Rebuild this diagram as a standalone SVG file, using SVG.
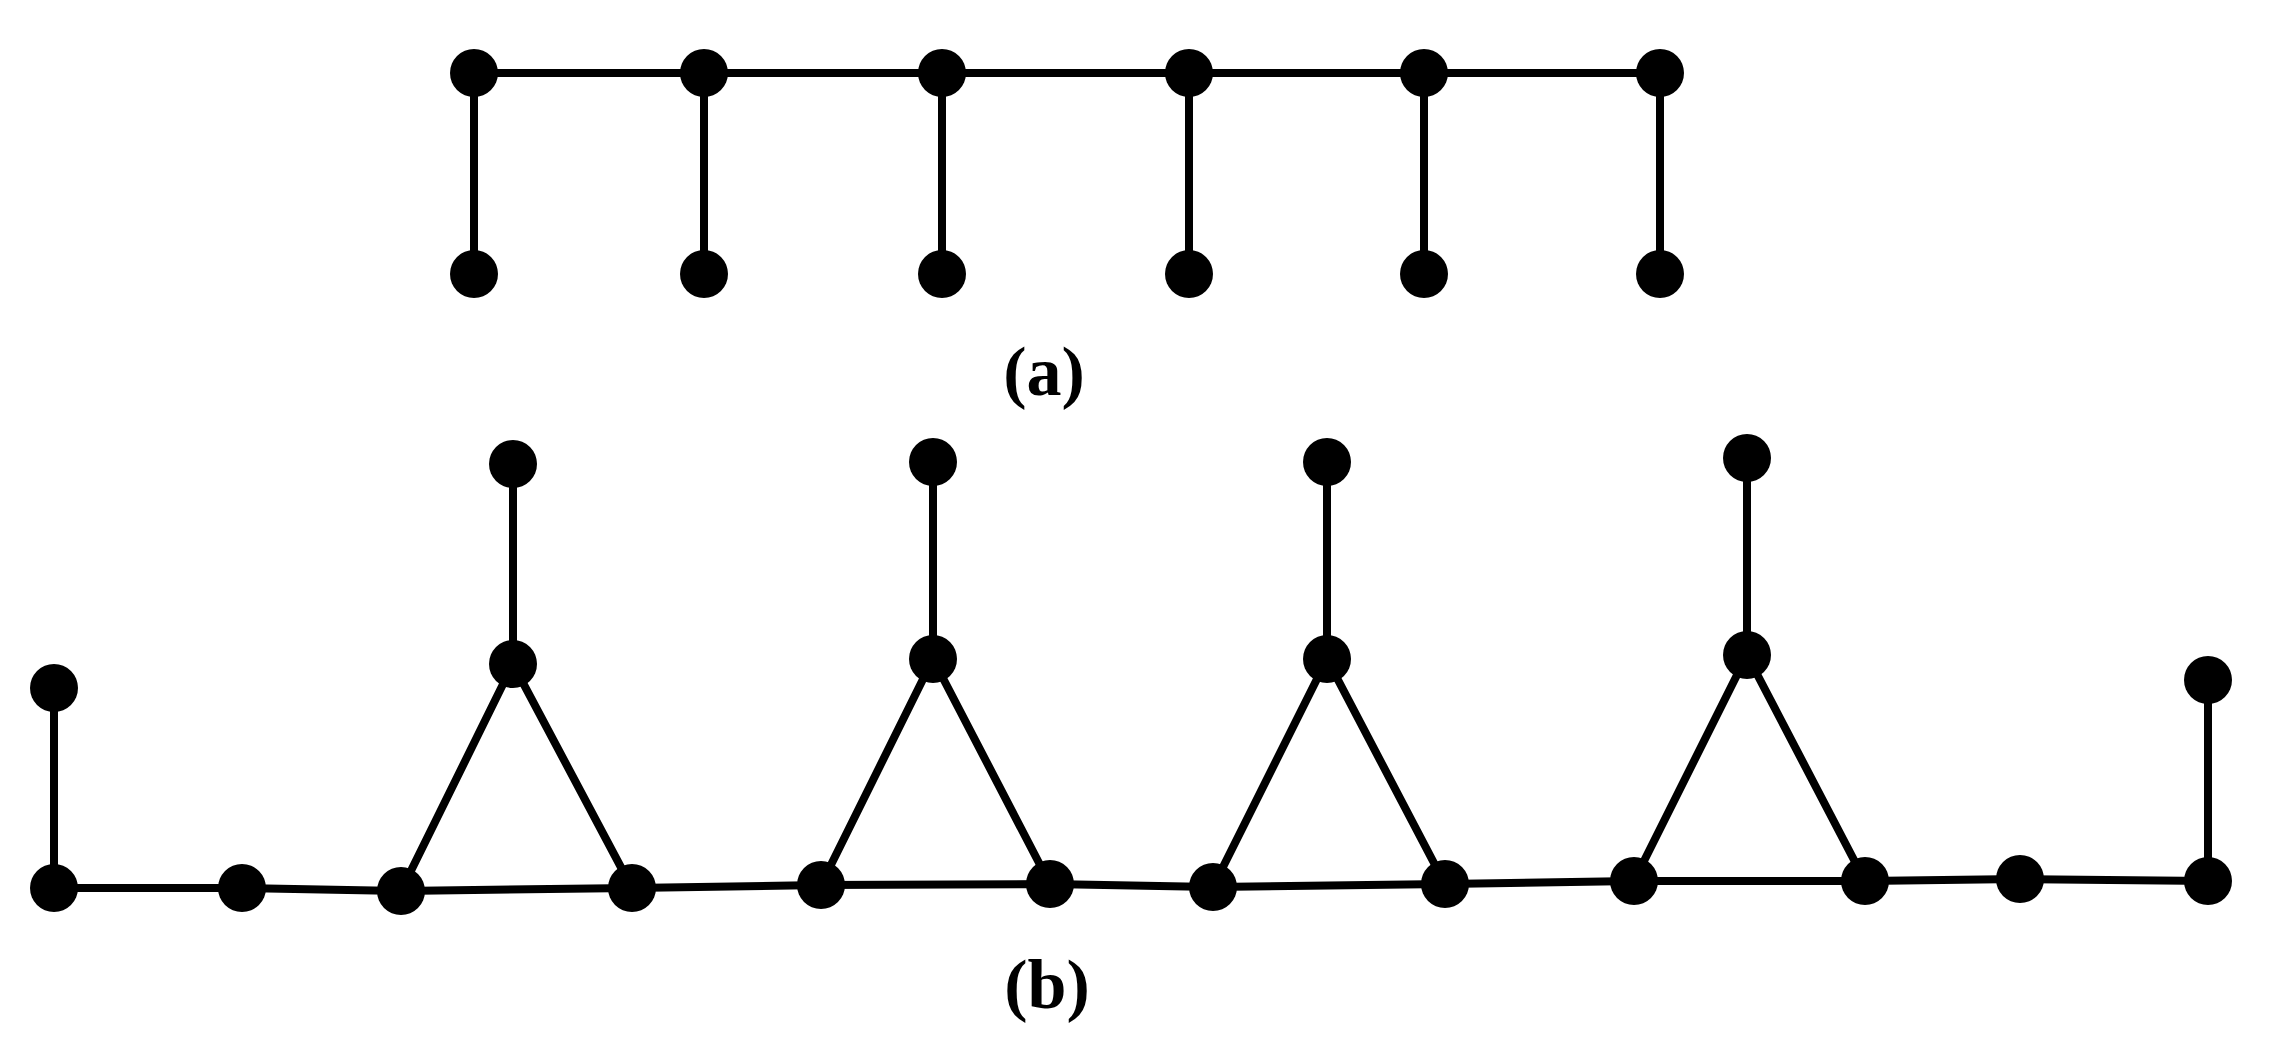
<svg xmlns="http://www.w3.org/2000/svg" width="2287" height="1056" viewBox="0 0 2287 1056">
<style>.e{stroke:#000;stroke-width:8;fill:none}.n{fill:#000}.t{font-family:"Liberation Serif",serif;font-weight:bold;font-size:70px;text-anchor:middle}</style>
<rect width="2287" height="1056" fill="#fff"/>
<g id="connectors" class="e">
<path d="M474 73H1660M474 73V274M704 73V274M942 73V274M1189 73V274M1424 73V274M1660 73V274"/>
<path d="M54 688V888L242 888L401 891L632 888L821 885L1050 884L1213 887L1445 884L1634 881L1865 881L2020 879L2208 881V680"/>
<path d="M513 464V664M401 891L513 664L632 888M933 462V659M821 885L933 659L1050 884M1327 462V659M1213 887L1327 659L1445 884M1747 458V655M1634 881L1747 655L1865 881"/>
</g>
<g id="nodes" class="n">
<circle cx="474" cy="73" r="24"/><circle cx="704" cy="73" r="24"/><circle cx="942" cy="73" r="24"/><circle cx="1189" cy="73" r="24"/><circle cx="1424" cy="73" r="24"/><circle cx="1660" cy="73" r="24"/>
<circle cx="474" cy="274" r="24"/><circle cx="704" cy="274" r="24"/><circle cx="942" cy="274" r="24"/><circle cx="1189" cy="274" r="24"/><circle cx="1424" cy="274" r="24"/><circle cx="1660" cy="274" r="24"/>
<circle cx="513" cy="464" r="24"/><circle cx="933" cy="462" r="24"/><circle cx="1327" cy="462" r="24"/><circle cx="1747" cy="458" r="24"/>
<circle cx="513" cy="664" r="24"/><circle cx="933" cy="659" r="24"/><circle cx="1327" cy="659" r="24"/><circle cx="1747" cy="655" r="24"/>
<circle cx="54" cy="688" r="24"/><circle cx="2208" cy="680" r="24"/>
<circle cx="54" cy="888" r="24"/><circle cx="242" cy="888" r="24"/><circle cx="401" cy="891" r="24"/><circle cx="632" cy="888" r="24"/><circle cx="821" cy="885" r="24"/><circle cx="1050" cy="884" r="24"/><circle cx="1213" cy="887" r="24"/><circle cx="1445" cy="884" r="24"/><circle cx="1634" cy="881" r="24"/><circle cx="1865" cy="881" r="24"/><circle cx="2020" cy="879" r="24"/><circle cx="2208" cy="881" r="24"/>
</g>
<text class="t" x="1044" y="395">(a)</text>
<text class="t" x="1047" y="1008">(b)</text>
</svg>
